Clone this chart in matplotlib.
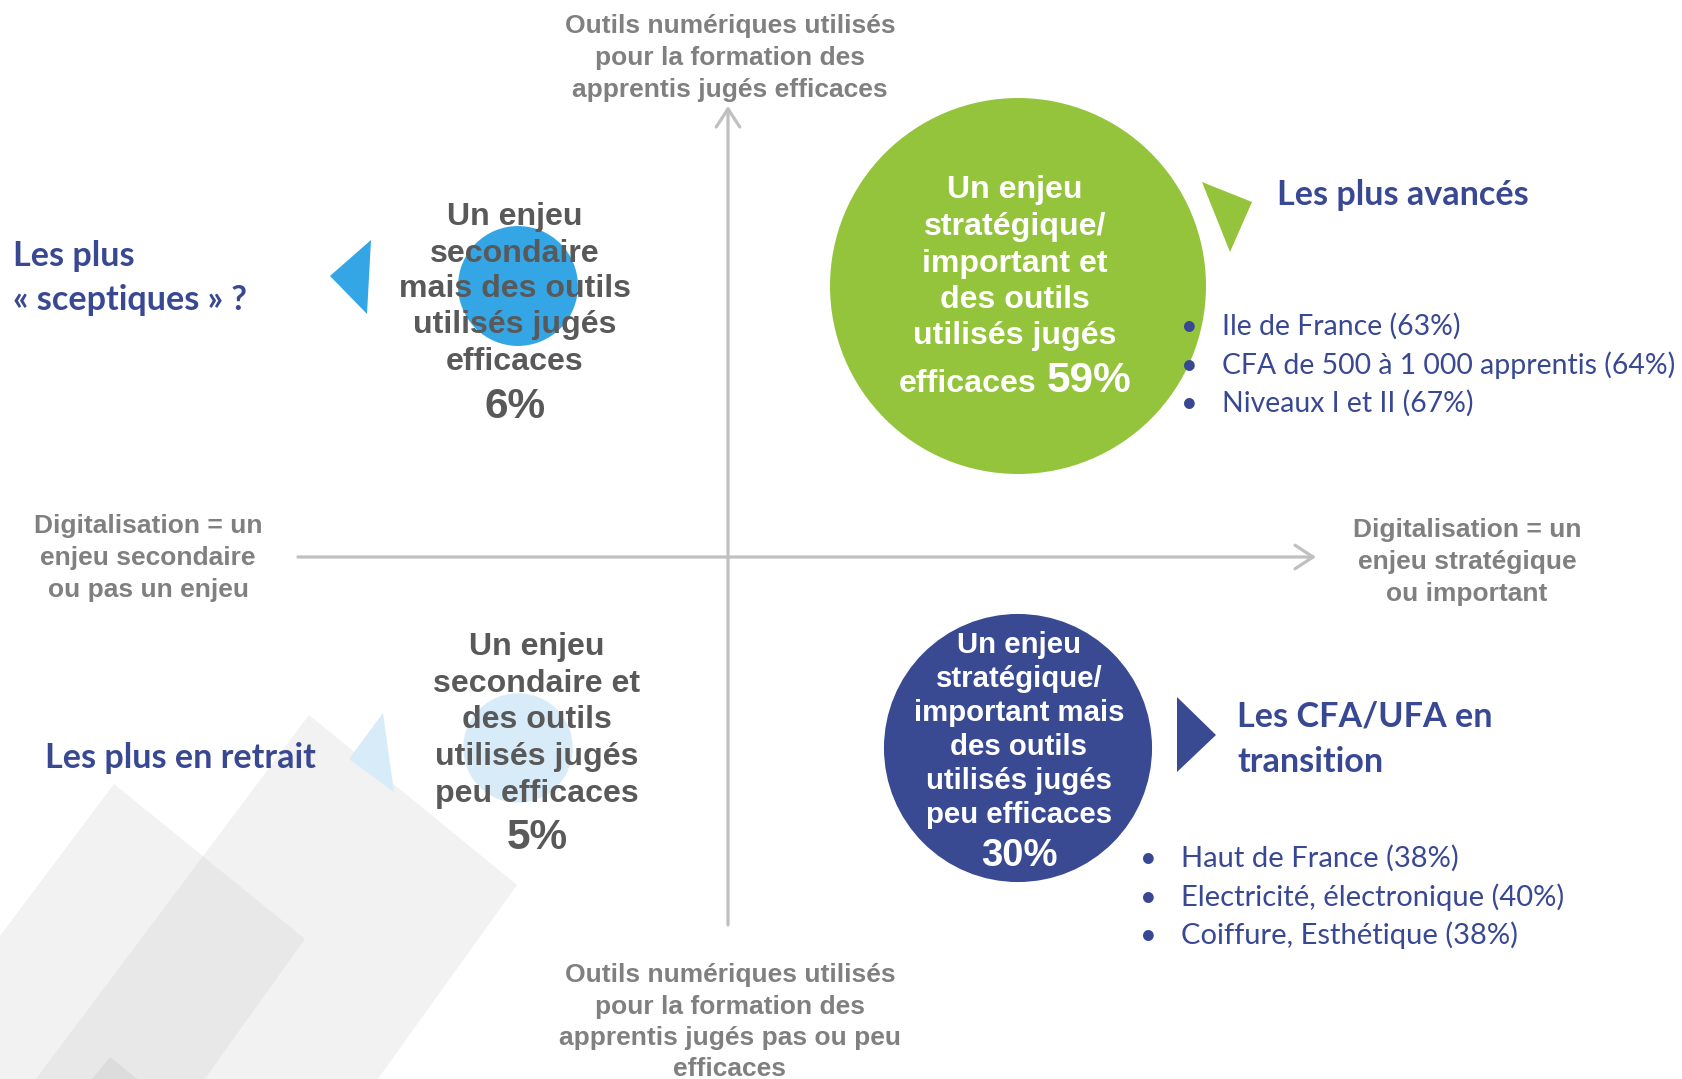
import matplotlib
matplotlib.use("Agg")
import matplotlib.pyplot as plt
from matplotlib.patches import Polygon, FancyArrowPatch
from matplotlib.transforms import Affine2D

# ---------------- data ----------------
quadrant_lines = [
    ["Un enjeu", "stratégique/", "important et", "des outils", "utilisés jugés"],
    ["Un enjeu", "secondaire", "mais des outils", "utilisés jugés", "efficaces"],
    ["Un enjeu", "secondaire et", "des outils", "utilisés jugés", "peu efficaces"],
    ["Un enjeu", "stratégique/", "important mais", "des outils", "utilisés jugés", "peu efficaces"],
]
shares = [59, 6, 5, 30]                 # % of CFA/UFA in each quadrant
enjeu_level = [1, 0, 0, 1]              # 0 = secondaire, 1 = stratégique
efficacite_level = [1, 1, 0, 0]         # 0 = peu efficaces, 1 = efficaces
bubble_colors = ["#94C33C", "#34A6E6", "#D7EBF9", "#394A92"]

axis_top = ["Outils numériques utilisés", "pour la formation des", "apprentis jugés efficaces"]
axis_bottom = ["Outils numériques utilisés", "pour la formation des",
               "apprentis jugés pas ou peu", "efficaces"]
axis_left = ["Digitalisation = un", "enjeu secondaire", "ou pas un enjeu"]
axis_right = ["Digitalisation = un", "enjeu stratégique", "ou important"]

group_titles = [["Les plus avancés"], ["Les plus", "« sceptiques » ?"],
                ["Les plus en retrait"], ["Les CFA/UFA en", "transition"]]
avances_items = ["Ile de France (63%)", "CFA de 500 à 1 000 apprentis (64%)", "Niveaux I et II (67%)"]
transition_items = ["Haut de France (38%)", "Electricité, électronique (40%)", "Coiffure, Esthétique (38%)"]

# ---------------- figure ----------------
W, H = 1683, 1079
fig = plt.figure(figsize=(W / 100, H / 100), dpi=100)
ax = fig.add_axes([0, 0, 1, 1])
ax.axis("off")
# data scale: quadrant index -> bubble centres
ax.set_xlim(-518 / 500, (W - 518) / 500)
ax.set_ylim(-(H - 748) / 462, 748 / 462)

# pixel transform (origin top-left)
pix = Affine2D().scale(1 / 100, -1 / 100).translate(0, H / 100) + fig.dpi_scale_trans

NAVY = "#394893"
GRAY_AX = "#808080"
GRAY_TX = "#595959"
BOLD = "Liberation Sans"
CAL = "Lato"

# decorative background shapes
for poly, fc, al in [
    ([(309, 715), (517, 885), (291, 1200), (-55, 1200)], "#d4d4d4", 0.30),
    ([(114, 784), (305, 939), (118, 1200), (-198, 1200)], "#d4d4d4", 0.30),
    ([(110, 1057), (200, 1130), (50, 1130)], "#cfcfcf", 0.45),
]:
    ax.add_patch(Polygon(poly, closed=True, transform=pix, facecolor=fc,
                         edgecolor="none", alpha=al, zorder=0.5))

# axes arrows
arrow_kw = dict(transform=pix, arrowstyle="->,head_length=13,head_width=8.5",
                color="#C0C0C0", lw=2.3, shrinkA=0, shrinkB=0, zorder=1)
ax.add_patch(FancyArrowPatch((298, 557), (1316, 557), **arrow_kw))
ax.add_patch(FancyArrowPatch((728, 925), (728, 106), **arrow_kw))

# bubbles (area proportional to share)
SIZE_PER_PCT = 1242
ax.scatter(enjeu_level, efficacite_level, s=[p * SIZE_PER_PCT for p in shares],
           c=bubble_colors, linewidths=0, zorder=2)

# triangles
tri = [
    ([(1202, 182), (1252, 202), (1230, 252)], "#94C33C"),
    ([(330, 276), (371, 240), (367, 314)], "#34A6E6"),
    ([(349, 759), (383, 713), (394, 792)], "#D7EBF9"),
    ([(1177, 697), (1216, 735), (1177, 772)], "#394A92"),
]
for pts, col in tri:
    ax.add_patch(Polygon(pts, closed=True, transform=pix, facecolor=col,
                         edgecolor="none", zorder=2))


def lines_at(x, baselines, lines, ha="center", **kw):
    out = []
    for s, yb in zip(lines, baselines):
        out.append(ax.text(x, yb, s, transform=pix, ha=ha, va="baseline", zorder=3, **kw))
    return out


ax_kw = dict(family=BOLD, weight="bold", color=GRAY_AX, fontsize=19)
lines_at(730, [33, 65, 97], axis_top, **ax_kw)
lines_at(730, [982, 1014, 1045, 1076], axis_bottom, **ax_kw)
lines_at(148, [533, 565, 597], axis_left, **ax_kw)
lines_at(1467, [537, 569, 601], axis_right, **ax_kw)

# bubble texts
pct = [f"{p}%" for p in shares]
QF = 23.1
lines_at(1015, [198, 235, 272, 308, 344], quadrant_lines[0],
         family=BOLD, weight="bold", color="white", fontsize=QF)
t1 = ax.text(0, 392, "efficaces", transform=pix, ha="left", va="baseline", zorder=3,
             family=BOLD, weight="bold", color="white", fontsize=QF)
t2 = ax.text(0, 392, pct[0], transform=pix, ha="left", va="baseline", zorder=3,
             family=BOLD, weight="bold", color="white", fontsize=30.5)

lines_at(515, [225, 262, 297, 333, 370], quadrant_lines[1],
         family=BOLD, weight="bold", color=GRAY_TX, fontsize=QF)
lines_at(515, [418], [pct[1]], family=BOLD, weight="bold", color=GRAY_TX, fontsize=30.5)

lines_at(537, [655, 692, 728, 765, 802], quadrant_lines[2],
         family=BOLD, weight="bold", color=GRAY_TX, fontsize=QF)
lines_at(537, [849], [pct[2]], family=BOLD, weight="bold", color=GRAY_TX, fontsize=30.5)

lines_at(1019, [653, 687, 721, 755, 789, 823], quadrant_lines[3],
         family=BOLD, weight="bold", color="white", fontsize=21.2)
lines_at(1019, [866], [pct[3]], family=BOLD, weight="bold", color="white", fontsize=27.5)

# group titles
gt_kw = dict(family=CAL, weight="bold", color=NAVY, fontsize=24.6)
lines_at(1277, [205], group_titles[0], ha="left", **gt_kw)
lines_at(13, [266, 310], group_titles[1], ha="left", **gt_kw)
lines_at(45, [768], group_titles[2], ha="left", **gt_kw)
lines_at(1237, [727, 772], group_titles[3], ha="left", **gt_kw)

# bullet lists
lines_at(1181, [335, 374, 412], ["•"] * 3, ha="left", family=CAL, color=NAVY, fontsize=21)
lines_at(1222, [335, 374, 412], avances_items, ha="left", family=CAL, color=NAVY, fontsize=20.4)
lines_at(1140, [867, 906, 944], ["•"] * 3, ha="left", family=CAL, color=NAVY, fontsize=21)
lines_at(1181, [867, 906, 944], transition_items, ha="left", family=CAL, color=NAVY, fontsize=21)

# centre the mixed-size last line of the green bubble
fig.canvas.draw()
r = fig.canvas.get_renderer()
w1 = t1.get_window_extent(r).width
w2 = t2.get_window_extent(r).width
gap = 10
left = 1015 - (w1 + gap + w2) / 2
t1.set_x(left)
t2.set_x(left + w1 + gap)

fig.savefig("out.png", dpi=100, facecolor="white")
